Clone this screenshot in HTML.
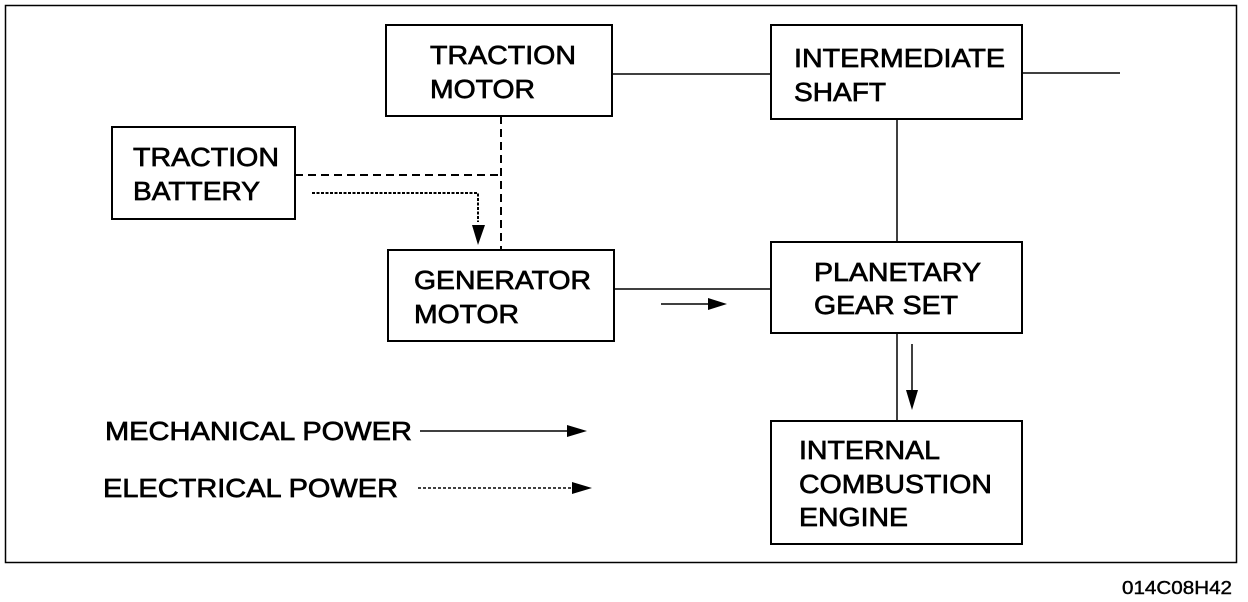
<!DOCTYPE html>
<html><head><style>html,body{margin:0;padding:0;background:#fff}svg{display:block}</style></head>
<body>
<svg width="1248" height="602" xmlns="http://www.w3.org/2000/svg" font-family="Liberation Sans, Arial, sans-serif" font-size="26" fill="#000">
<rect x="5.5" y="5.5" width="1231" height="557" fill="none" stroke="#000" stroke-width="1.5"/>
<g fill="none" stroke="#000" stroke-width="2">
<rect x="386" y="25" width="226" height="91"/>
<rect x="771" y="25" width="251" height="94"/>
<rect x="112" y="127" width="183" height="92"/>
<rect x="388" y="250" width="226" height="91"/>
<rect x="771" y="242" width="251" height="91"/>
<rect x="771" y="421" width="251" height="123"/>
</g>
<g stroke="#000" stroke-width="1.5" fill="none">
<line x1="612" y1="74" x2="771" y2="74"/>
<line x1="1022" y1="73" x2="1120" y2="73"/>
<line x1="897" y1="119" x2="897" y2="242"/>
<line x1="614" y1="289" x2="771" y2="289"/>
<line x1="661" y1="304" x2="708" y2="304"/>
<line x1="897" y1="333" x2="897" y2="421"/>
<line x1="912" y1="344" x2="912" y2="392"/>
<line x1="501" y1="116" x2="501" y2="250" stroke-dasharray="8,5" stroke-width="2"/>
<line x1="295" y1="175" x2="501" y2="175" stroke-dasharray="8,5" stroke-width="2"/>
<polyline points="312,193 478,193 478,222" stroke-dasharray="3,1.5" stroke-width="2"/>
<line x1="420" y1="431" x2="570" y2="431"/>
<line x1="418" y1="488" x2="574" y2="488" stroke-dasharray="3,2"/>
</g>
<polygon points="708,298 727,304 708,310"/>
<polygon points="906,390 918,390 912,410"/>
<polygon points="472,225 485,225 478,245"/>
<polygon points="567,425 587,431 567,437"/>
<polygon points="572,482 592,488 572,494"/>
<g stroke="#000" stroke-width="0.7" lengthAdjust="spacingAndGlyphs">
<text x="430" y="64" textLength="146" lengthAdjust="spacingAndGlyphs">TRACTION</text><text x="430" y="98" textLength="105" lengthAdjust="spacingAndGlyphs">MOTOR</text>
<text x="794" y="67" textLength="211" lengthAdjust="spacingAndGlyphs">INTERMEDIATE</text><text x="794" y="101" textLength="92" lengthAdjust="spacingAndGlyphs">SHAFT</text>
<text x="133" y="166" textLength="146" lengthAdjust="spacingAndGlyphs">TRACTION</text><text x="133" y="200" textLength="127" lengthAdjust="spacingAndGlyphs">BATTERY</text>
<text x="414" y="289" textLength="177" lengthAdjust="spacingAndGlyphs">GENERATOR</text><text x="414" y="323" textLength="105" lengthAdjust="spacingAndGlyphs">MOTOR</text>
<text x="814" y="281" textLength="167" lengthAdjust="spacingAndGlyphs">PLANETARY</text><text x="814" y="314" textLength="144" lengthAdjust="spacingAndGlyphs">GEAR SET</text>
<text x="799" y="459" textLength="141" lengthAdjust="spacingAndGlyphs">INTERNAL</text><text x="799" y="493" textLength="193" lengthAdjust="spacingAndGlyphs">COMBUSTION</text><text x="799" y="526" textLength="109" lengthAdjust="spacingAndGlyphs">ENGINE</text>
<text x="105" y="440" textLength="307" lengthAdjust="spacingAndGlyphs">MECHANICAL POWER</text>
<text x="103" y="497" textLength="295" lengthAdjust="spacingAndGlyphs">ELECTRICAL POWER</text>
</g>
<text x="1122" y="594" font-size="18" textLength="110" lengthAdjust="spacingAndGlyphs" stroke="#000" stroke-width="0.4">014C08H42</text>
</svg>
</body></html>
